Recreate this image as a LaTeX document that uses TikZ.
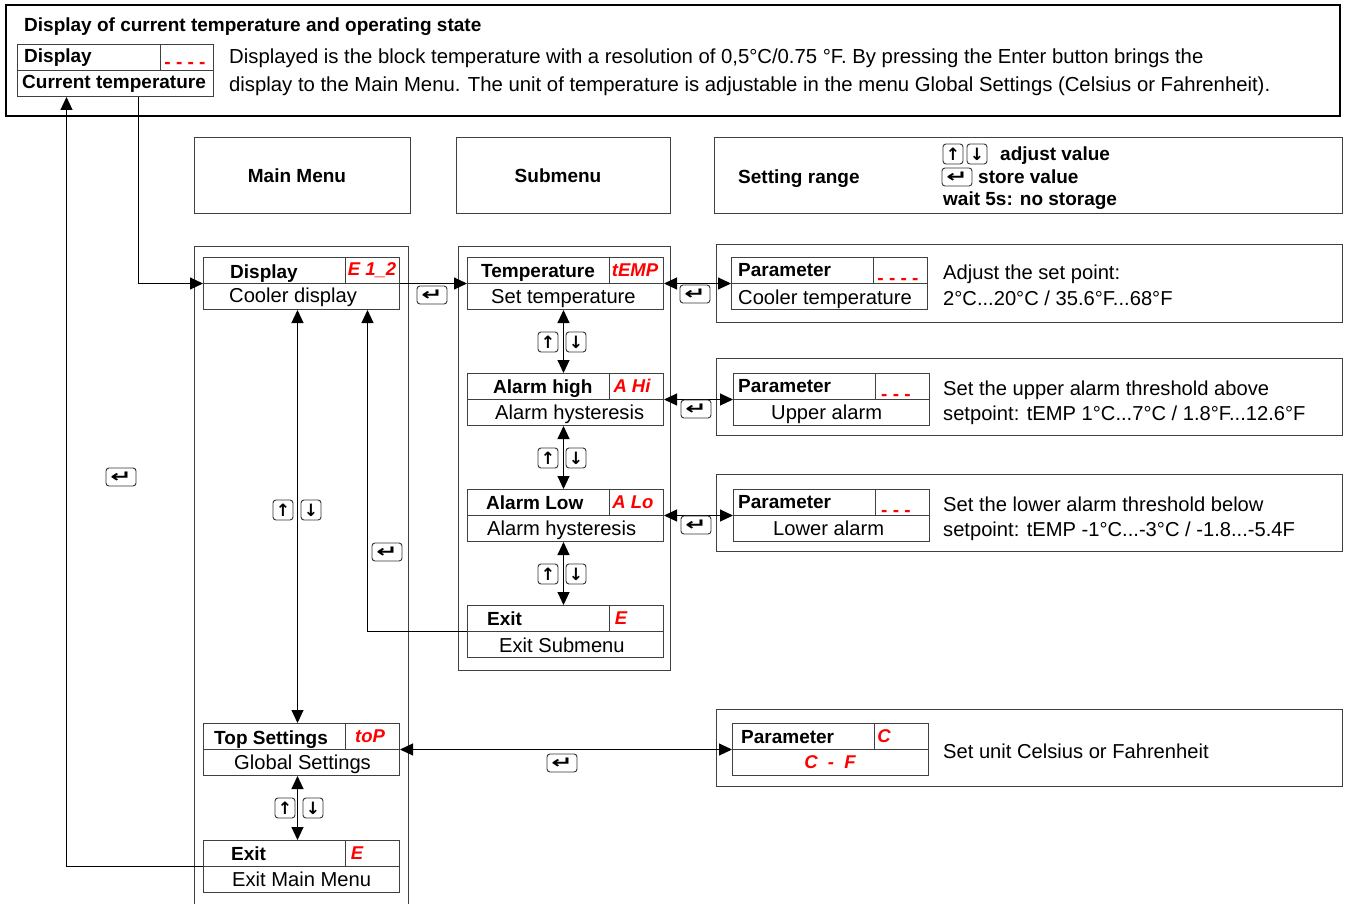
\documentclass[tikz,border=0pt]{standalone}
\usepackage{fontspec}
\setmainfont{Liberation Sans}
\newfontfamily\dejavu{DejaVu Sans}
\usetikzlibrary{arrows.meta}
\newcommand\rfont{\fontsize{20.15}{22}\selectfont}
\newcommand\dfont{\fontsize{20.3}{22}\selectfont}
\newcommand\bfont{\fontsize{19}{22}\selectfont\bfseries}
\newcommand\sfont{\fontsize{18.5}{20}\selectfont\bfseries\itshape}
\newcommand\kfont{\fontsize{17}{17}\selectfont\dejavu\bfseries}
\newcommand\efont{\fontsize{16}{16}\selectfont\dejavu\bfseries}
\newcommand\entersym{\scalebox{1.6}[1.05]{↵}}
\newcommand\mkbox[4]{%
  \node[box] (#1) at (#2,#3) {};
  \draw[boxline] (#1.west) -- (#1.east);
  \draw[boxline] ([xshift=#4pt]#1.north west) -- ([xshift=#4pt]#1.west);
}
\begin{document}
\begin{tikzpicture}[x=1pt,y=-1pt,
  boxline/.style={draw=black!75, line width=1pt},
  box/.style={boxline, minimum width=196pt, minimum height=52pt, anchor=north west, inner sep=0pt},
  panel/.style={draw=black!75, line width=1pt},
  keybox/.style={draw=black!80, rounded corners=3pt, line width=0.9pt, inner sep=0pt, minimum width=20pt, minimum height=20pt, font=\kfont},
  enterkey/.style={keybox, minimum width=30pt, minimum height=18pt, font=\efont},
  conn/.style={line width=1pt, black},
  arr/.style={conn, -{Triangle[length=13pt,width=12pt]}},
  darr/.style={conn, {Triangle[length=13pt,width=12pt]}-{Triangle[length=13pt,width=12pt]}},
  bt/.style={font=\bfont, anchor=base west, inner sep=0pt},
  rt/.style={font=\rfont, anchor=base west, inner sep=0pt},
  segtext/.style={font=\sfont, text=red, inner sep=0pt},
  dashes/.style={font=\bfont, text=red, inner sep=0pt, anchor=base},
]
\useasboundingbox (0,0) rectangle (1346,904);
\fill[white] (0,0) rectangle (1346,904);

% ---------- top information box ----------
\draw[line width=2pt] (6,5) rectangle (1340,116);
\node[bt] (title) at (24,32) {Display of current temperature and operating state};
\mkbox{tbl}{17}{44}{143}
\node[bt] (tblA) at (24,63) {Display};
\node[dashes] (tblB) at (185,69) {- - - -};
\node[bt] (tblC) at (22,89) {Current temperature};
\node[rt, font=\dfont] (descA) at (229,64) {Displayed is the block temperature with a resolution of 0,5°C/0.75 °F. By pressing the Enter button brings the};
\node[rt, font=\dfont] (descB) at (229,92) {display to the Main Menu. The unit of temperature is adjustable in the menu Global Settings (Celsius or Fahrenheit).};

% ---------- header boxes ----------
\node[panel, minimum width=216pt, minimum height=76pt, anchor=north west, inner sep=0pt] (mmh) at (194,137) {};
\node[font=\bfont] (mmht) at (297,176) {Main Menu};
\node[panel, minimum width=214pt, minimum height=76pt, anchor=north west, inner sep=0pt] (smh) at (456,137) {};
\node[font=\bfont] (smht) at (558,176) {Submenu};
\node[panel, minimum width=628pt, minimum height=76pt, anchor=north west, inner sep=0pt] (srh) at (714,137) {};
\node[bt] (srht) at (738,184) {Setting range};
\node[keybox] (kup0) at (953,154) {↑};
\node[keybox] (kdn0) at (977,154) {↓};
\node[bt] (adj) at (1000,161) {adjust value};
\node[enterkey] (ken0) at (957,177) {\entersym};
\node[bt] (sto) at (978,184) {store value};
\node[bt] (wai) at (943,205) {wait 5s: no storage};

% ---------- column frames ----------
\draw[panel] (194,906) -- (194,246) -- (408,246) -- (408,906);
\draw[panel] (458,246) rectangle (670,670);

% ---------- main menu entries ----------
\mkbox{disp}{203}{257}{142}
\node[bt] (dispA) at (230,278) {Display};
\node[segtext] (dispB) at (372,270) {E 1\_2};
\node[rt] (dispC) at (229,302) {Cooler display};

\mkbox{tops}{203}{723}{142}
\node[bt] (topsA) at (214,744) {Top Settings};
\node[segtext] (topsB) at (370,736) {toP};
\node[rt] (topsC) at (234,769) {Global Settings};

\mkbox{exm}{203}{840}{142}
\node[bt] (exmA) at (231,860) {Exit};
\node[segtext] (exmB) at (357,853) {E};
\node[rt] (exmC) at (232,886) {Exit Main Menu};

% ---------- submenu entries ----------
\mkbox{temp}{467}{257}{142}
\node[bt] (tempA) at (481,277) {Temperature};
\node[segtext] (tempB) at (635,270) {tEMP};
\node[rt] (tempC) at (491,303) {Set temperature};

\mkbox{ah}{467}{373}{142}
\node[bt] (ahA) at (493,393) {Alarm high};
\node[segtext] (ahB) at (632,386) {A Hi};
\node[rt] (ahC) at (495,419) {Alarm hysteresis};

\mkbox{al}{467}{489}{142}
\node[bt] (alA) at (486,509) {Alarm Low};
\node[segtext] (alB) at (633,502) {A Lo};
\node[rt] (alC) at (487,535) {Alarm hysteresis};

\mkbox{exs}{467}{605}{142}
\node[bt] (exsA) at (487,625) {Exit};
\node[segtext] (exsB) at (621,618) {E};
\node[rt] (exsC) at (499,652) {Exit Submenu};

% ---------- parameter panels ----------
\draw[panel] (716,244) rectangle (1342,322);
\mkbox{pa}{731}{257}{142}
\node[bt] (paA) at (738,276) {Parameter};
\node[dashes] (paB) at (898,284) {- - - -};
\node[rt] (paC) at (738,304) {Cooler temperature};
\node[rt] (paD) at (943,279) {Adjust the set point:};
\node[rt] (paE) at (943,305) {2°C...20°C / 35.6°F...68°F};

\draw[panel] (716,358) rectangle (1342,435);
\mkbox{pb}{733}{373}{142}
\node[bt] (pbA) at (738,392) {Parameter};
\node[dashes] (pbB) at (896,400) {- - -};
\node[rt] (pbC) at (771,419) {Upper alarm};
\node[rt] (pbD) at (943,395) {Set the upper alarm threshold above};
\node[rt] (pbE) at (943,420) {setpoint: tEMP 1°C...7°C / 1.8°F...12.6°F};

\draw[panel] (716,474) rectangle (1342,551);
\mkbox{pc}{733}{489}{142}
\node[bt] (pcA) at (738,508) {Parameter};
\node[dashes] (pcB) at (896,516) {- - -};
\node[rt] (pcC) at (773,535) {Lower alarm};
\node[rt] (pcD) at (943,511) {Set the lower alarm threshold below};
\node[rt] (pcE) at (943,536) {setpoint: tEMP -1°C...-3°C / -1.8...-5.4F};

\draw[panel] (716,709) rectangle (1342,786);
\mkbox{pd}{732}{723}{142}
\node[bt] (pdA) at (741,743) {Parameter};
\node[segtext] (pdB) at (884,736) {C};
\node[segtext] (pdC) at (830,762) {C \ - \ F};
\node[rt] (pdD) at (943,758) {Set unit Celsius or Fahrenheit};

% ---------- connectors ----------
\draw[arr] ([xshift=23pt]tbl.south) |- (disp.west);
\draw[arr] (exm.west) -| ([xshift=-49pt]tbl.south);
\draw[arr] (disp.east) -- (temp.west);
\draw[darr] (temp.east) -- (pa.west);
\draw[darr] (ah.east) -- (pb.west);
\draw[darr] (al.east) -- (pc.west);
\draw[darr] (tops.east) -- (pd.west);
\draw[darr] ([xshift=-2pt]temp.south) -- ([xshift=-2pt]ah.north);
\draw[darr] ([xshift=-2pt]ah.south) -- ([xshift=-2pt]al.north);
\draw[darr] ([xshift=-2pt]al.south) -- ([xshift=-2pt]exs.north);
\draw[darr] ([xshift=-4pt]disp.south) -- ([xshift=-4pt]tops.north);
\draw[darr] ([xshift=-4pt]tops.south) -- ([xshift=-4pt]exm.north);
\draw[arr] (exs.west) -| ([xshift=66pt]disp.south);

% ---------- key icons ----------
\node[keybox] (k1u) at (548,342) {↑};
\node[keybox] (k1d) at (576,342) {↓};
\node[keybox] (k2u) at (548,458) {↑};
\node[keybox] (k2d) at (576,458) {↓};
\node[keybox] (k3u) at (548,574) {↑};
\node[keybox] (k3d) at (576,574) {↓};
\node[keybox] (k4u) at (283,510) {↑};
\node[keybox] (k4d) at (311,510) {↓};
\node[keybox] (k5u) at (285,808) {↑};
\node[keybox] (k5d) at (313,808) {↓};
\node[enterkey] (e1) at (432,295) {\entersym};
\node[enterkey] (e2) at (695,294) {\entersym};
\node[enterkey] (e3) at (696,409) {\entersym};
\node[enterkey] (e4) at (696,525) {\entersym};
\node[enterkey] (e5) at (562,763) {\entersym};
\node[enterkey] (e6) at (387,552) {\entersym};
\node[enterkey] (e7) at (121,477) {\entersym};
\end{tikzpicture}
\end{document}
